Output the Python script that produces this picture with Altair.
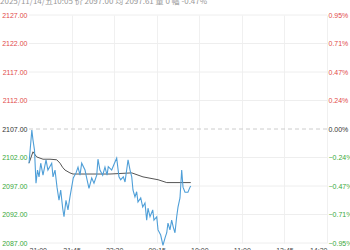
import altair as alt
import pandas as pd

# ---- data ----
title_text = "2025/11/14/五10:05  价 2097.00  均 2097.61  量 0  幅 -0.47%"
base_price = 2107.0

price_idx = [0, 3, 4.2, 5.8, 7.4, 9, 10.6, 12.4, 14.8, 18, 20, 24, 25.4, 27.5, 29.6,
             31.7, 33.5, 35.6, 37, 39.1, 41.2, 43.3, 45.1, 46.8, 49.7, 51.8, 53.9,
             55.7, 59.2, 61, 63.4, 66.3, 68.7, 71.6, 72.9, 75, 77.9, 80.3, 82.5,
             83.8, 87.4, 90.9, 92.7, 95.1, 96.9, 99.7, 101.5, 104.7, 106.8, 108.6,
             109.9, 112, 113.8, 115.2, 118.1, 120.2, 122.6, 124.4, 125.8, 127.9,
             130.8, 132.1, 135, 136.4, 139.2, 141.6, 143.8, 145.6, 146.9, 149,
             150.8, 152.5, 154.3, 156.1, 157.5, 159.6, 161.4, 162.8, 164.9, 168,
             170.2, 171]
price_val = [2101.0, 2106.8, 2105.1, 2103.3, 2097.5, 2099.8, 2098.6, 2101.0, 2098.9,
             2101.6, 2099.8, 2101.0, 2098.6, 2099.8, 2096.8, 2094.5, 2096.3, 2093.1,
             2091.6, 2094.5, 2092.8, 2095.1, 2096.8, 2098.4, 2099.3, 2100.3, 2098.9,
             2101.0, 2099.8, 2098.4, 2096.6, 2098.4, 2097.5, 2098.9, 2101.7, 2099.8,
             2098.9, 2100.3, 2098.9, 2100.4, 2099.8, 2101.2, 2101.9, 2098.6, 2098.1,
             2098.6, 2097.7, 2101.6, 2099.8, 2098.6, 2096.3, 2095.1, 2096.0, 2094.2,
             2094.9, 2093.3, 2094.0, 2091.0, 2093.1, 2091.6, 2092.8, 2091.0, 2091.6,
             2089.3, 2088.4, 2086.6, 2087.9, 2088.8, 2090.5, 2089.3, 2091.0, 2089.8,
             2088.8, 2091.6, 2093.3, 2094.9, 2099.8, 2096.8, 2095.9, 2095.9, 2096.8,
             2097.0]

avg_idx = [0, 4.2, 8.1, 14.8, 22.2, 29.3, 32.8, 35.4, 38, 43.3, 46.5, 85.6, 108.6,
           120.5, 136.4, 145.6, 159.6, 171]
avg_val = [2101.0, 2103.0, 2102.1, 2101.7, 2101.7, 2101.6, 2101.0, 2100.3, 2099.8,
           2099.3, 2099.1, 2099.1, 2099.3, 2098.6, 2098.1, 2097.6, 2097.6, 2097.6]

tick_pos = [0, 45, 90, 135, 180, 225, 270, 315]
tick_labels = ["21:00", "21:45", "22:30", "09:15", "10:00", "11:00", "13:45", "14:30"]

price_levels = [2127, 2122, 2117, 2112, 2107, 2102, 2097, 2092, 2087]
pct_levels = [(p - base_price) / base_price * 100 for p in price_levels]

# ---- frames ----
df_price = pd.DataFrame({"idx": price_idx, "price": price_val})
df_avg = pd.DataFrame({"idx": avg_idx, "price": avg_val})
df_grid = pd.DataFrame({"price": [p for p in price_levels if p != base_price]})
df_zero = pd.DataFrame({"price": [base_price]})
df_pct = pd.DataFrame({"pct": pct_levels})
df_title = pd.DataFrame({"t": [title_text]})

xscale = alt.Scale(domain=[0, 315], nice=False, zero=False)
yscale = alt.Scale(domain=[2087, 2127], nice=False, zero=False)
pct_dom = (2127 - base_price) / base_price * 100
pscale = alt.Scale(domain=[-pct_dom, pct_dom], nice=False, zero=False)

label_expr = "[" + ",".join("'%s'" % s for s in tick_labels) + "][round(datum.value/45)]"

xaxis = alt.Axis(values=tick_pos, labelExpr=label_expr, title=None, domain=False,
                 ticks=False, grid=True,
                 gridColor=alt.ExprRef("datum.value == 0 ? 'transparent' : '#f0f0f0'"),
                 labelFlush=True, labelOverlap=False, labelFontSize=7,
                 labelColor="#444", labelPadding=3, labelFont="Liberation Sans")

yaxis = alt.Axis(values=price_levels, format=".2f", title=None, domain=False,
                 ticks=False, grid=False, labelFontSize=7, labelPadding=2,
                 labelOverlap=False, labelBound=False, labelFont="Liberation Sans",
                 labelColor=alt.ExprRef("datum.value > 2107 ? '#e24a4a' : (datum.value < 2107 ? '#3aa83a' : '#333333')"))

grid = alt.Chart(df_grid).mark_rule(color="#eeeeee", strokeWidth=1).encode(
    y=alt.Y("price:Q", scale=yscale, axis=yaxis)
)
zero = alt.Chart(df_zero).mark_rule(color="#cccccc", strokeWidth=1, strokeDash=[4, 3]).encode(
    y=alt.Y("price:Q", scale=yscale, axis=yaxis)
)
line = alt.Chart(df_price).mark_line(color="#4f9fd8", strokeWidth=1.1).encode(
    x=alt.X("idx:Q", scale=xscale, axis=xaxis),
    y=alt.Y("price:Q", scale=yscale, axis=yaxis),
)
avg = alt.Chart(df_avg).mark_line(color="#555555", strokeWidth=1).encode(
    x=alt.X("idx:Q", scale=xscale, axis=xaxis),
    y=alt.Y("price:Q", scale=yscale, axis=yaxis),
)
title = alt.Chart(df_title).mark_text(align="left", baseline="middle", fontSize=8,
                                      color="#999999", font="Noto Sans CJK SC").encode(
    x=alt.value(-29), y=alt.value(-13), text="t:N"
)

left = alt.layer(grid, zero, avg, line, title)

right = alt.Chart(df_pct).mark_rule(opacity=0).encode(
    y=alt.Y("pct:Q", scale=pscale,
            axis=alt.Axis(orient="right", values=pct_levels, title=None, domain=False,
                          ticks=False, grid=False, labelFontSize=7, labelPadding=1,
                          labelOverlap=False, labelBound=False, labelFont="Liberation Sans",
                          labelExpr="format(datum.value, '.2f') + '%'",
                          labelColor=alt.ExprRef("datum.value > 0.001 ? '#e24a4a' : (datum.value < -0.001 ? '#3aa83a' : '#333333')")))
)

chart = alt.layer(left, right).resolve_scale(y="independent").properties(
    width=298, height=228, autosize="none",
    padding={"left": 29, "top": 15, "right": 23, "bottom": 7},
).configure_view(stroke=None).configure_axis(labelOverlap=False)

chart.save("out.html", embed_options={"renderer": "svg", "actions": False})
